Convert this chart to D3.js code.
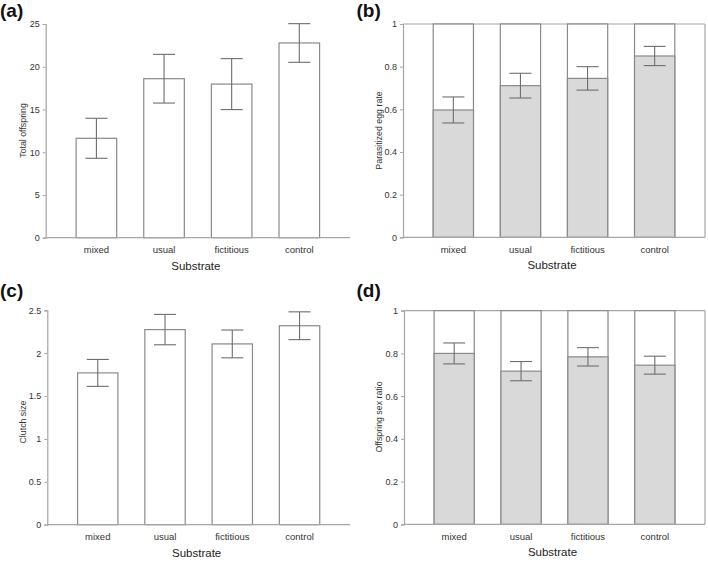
<!DOCTYPE html>
<html>
<head>
<meta charset="utf-8">
<script src="https://cdn.jsdelivr.net/npm/d3@7"></script>
<style>
  html, body { margin: 0; padding: 0; background: #fff; }
  svg { display: block; font-family: "Liberation Sans", Arial, sans-serif; }
</style>
</head>
<body>
<svg id="chart" width="708" height="565"></svg>
<script>
// ---- data ----
const categories = ["mixed", "usual", "fictitious", "control"];

const totalOffspring = [11.63, 18.6, 17.97, 22.78];
const totalOffspringSE = [2.34, 2.85, 2.98, 2.26];
const totalOffspringTicks = [0, 5, 10, 15, 20, 25];

const parasitizedRate = [0.597, 0.711, 0.745, 0.850];
const parasitizedRateSE = [0.061, 0.058, 0.055, 0.045];
const rateTicks = [0, 0.2, 0.4, 0.6, 0.8, 1];

const clutchSize = [1.77, 2.275, 2.108, 2.32];
const clutchSizeSE = [0.157, 0.177, 0.162, 0.162];
const clutchTicks = [0, 0.5, 1, 1.5, 2, 2.5];

const sexRatio = [0.800, 0.717, 0.784, 0.745];
const sexRatioSE = [0.049, 0.045, 0.043, 0.042];

const panelLabels = ["(a)", "(b)", "(c)", "(d)"];
const yTitles = ["Total offspring", "Parasitized egg rate", "Clutch size", "Offspring sex ratio"];
const xTitle = "Substrate";

// ---- layout ----
const panels = [
  { label: panelLabels[0], yTitle: yTitles[0], values: totalOffspring, se: totalOffspringSE, ticks: totalOffspringTicks, max: 25, stacked: false,
    x0: 45.7, x1: 350, yTop: 24, yBot: 237.7, lx: 0, ly: 16.5, ytx: 23.3, yty: 130.5 },
  { label: panelLabels[1], yTitle: yTitles[1], values: parasitizedRate, se: parasitizedRateSE, ticks: rateTicks, max: 1, stacked: true,
    x0: 403, x1: 705, yTop: 24, yBot: 237.3, lx: 356.5, ly: 16.5, ytx: 379, yty: 130.5 },
  { label: panelLabels[2], yTitle: yTitles[2], values: clutchSize, se: clutchSizeSE, ticks: clutchTicks, max: 2.5, stacked: false,
    x0: 47.3, x1: 350, yTop: 310.3, yBot: 524.7, lx: 0, ly: 296.5, ytx: 23.3, yty: 422 },
  { label: panelLabels[3], yTitle: yTitles[3], values: sexRatio, se: sexRatioSE, ticks: rateTicks, max: 1, stacked: true,
    x0: 404, x1: 705, yTop: 310.7, yBot: 524.3, lx: 356.5, ly: 296.5, ytx: 379, yty: 417 }
];

const svg = d3.select("#chart");
const axisColor = "#a6a6a6";
const barStroke = "#8a8a8a";
const errColor = "#6e6e6e";
const textColor = "#333";

panels.forEach(p => {
  const g = svg.append("g");
  const x = d3.scaleBand().domain(categories).range([p.x0, p.x1]).paddingInner(0.4).paddingOuter(0.45);
  const y = d3.scaleLinear().domain([0, p.max]).range([p.yBot, p.yTop]);

  // frame for stacked panels
  if (p.stacked) {
    g.append("line").attr("x1", p.x0).attr("x2", p.x1).attr("y1", y(p.max)).attr("y2", y(p.max))
      .attr("stroke", axisColor).attr("stroke-width", 1.2);
    g.append("line").attr("x1", p.x1).attr("x2", p.x1).attr("y1", y(p.max)).attr("y2", y(0))
      .attr("stroke", axisColor).attr("stroke-width", 1.2);
  }

  const data = categories.map((c, i) => ({ c, v: p.values[i], se: p.se[i] }));

  if (p.stacked) {
    g.selectAll(".bg").data(data).enter().append("rect")
      .attr("x", d => x(d.c)).attr("width", x.bandwidth())
      .attr("y", y(p.max)).attr("height", y(0) - y(p.max))
      .attr("fill", "#fff").attr("stroke", barStroke).attr("stroke-width", 1.2);
  }
  g.selectAll(".bar").data(data).enter().append("rect")
    .attr("x", d => x(d.c)).attr("width", x.bandwidth())
    .attr("y", d => y(d.v)).attr("height", d => y(0) - y(d.v))
    .attr("fill", p.stacked ? "#d9d9d9" : "#fff")
    .attr("stroke", barStroke).attr("stroke-width", 1.2);

  // error bars
  const cap = 11;
  const eb = g.selectAll(".err").data(data).enter().append("g").attr("stroke", errColor).attr("stroke-width", 1.1);
  eb.append("line")
    .attr("x1", d => x(d.c) + x.bandwidth() / 2).attr("x2", d => x(d.c) + x.bandwidth() / 2)
    .attr("y1", d => y(d.v + d.se)).attr("y2", d => y(d.v - d.se));
  eb.append("line")
    .attr("x1", d => x(d.c) + x.bandwidth() / 2 - cap).attr("x2", d => x(d.c) + x.bandwidth() / 2 + cap)
    .attr("y1", d => y(d.v + d.se)).attr("y2", d => y(d.v + d.se));
  eb.append("line")
    .attr("x1", d => x(d.c) + x.bandwidth() / 2 - cap).attr("x2", d => x(d.c) + x.bandwidth() / 2 + cap)
    .attr("y1", d => y(d.v - d.se)).attr("y2", d => y(d.v - d.se));

  // y axis
  const ya = g.append("g").attr("transform", `translate(${p.x0},0)`)
    .call(d3.axisLeft(y).tickValues(p.ticks).tickSize(3).tickPadding(3).tickFormat(d3.format("~g")));
  ya.select(".domain").attr("stroke", axisColor).attr("stroke-width", 1.2);
  ya.selectAll(".tick line").attr("stroke", axisColor);
  ya.selectAll(".tick text").attr("fill", textColor).style("font-size", "9px")
    .style("font-family", "'Liberation Sans', Arial, sans-serif");

  // x axis (line only, labels under bars)
  const xa = g.append("g").attr("transform", `translate(0,${p.yBot})`)
    .call(d3.axisBottom(x).tickSize(0).tickPadding(8.5));
  xa.select(".domain").attr("stroke", axisColor).attr("stroke-width", 1.2)
    .attr("d", `M${p.x0},0H${p.x1}`);
  xa.selectAll(".tick text").attr("fill", textColor).style("font-size", "9.5px")
    .style("font-family", "'Liberation Sans', Arial, sans-serif");

  // x title
  g.append("text").attr("x", (p.x0 + p.x1) / 2 - 2).attr("y", p.yBot + 32)
    .attr("text-anchor", "middle").attr("fill", "#222").style("font-size", "11.5px").text(xTitle);

  // y title
  g.append("text").attr("transform", `translate(${p.ytx + 3},${p.yty}) rotate(-90)`)
    .attr("text-anchor", "middle").attr("fill", textColor).style("font-size", "8.8px").text(p.yTitle);

  // panel label
  g.append("text").attr("x", p.lx).attr("y", p.ly)
    .attr("fill", "#111").style("font-size", "19px").style("font-weight", "bold").text(p.label);
});
</script>
</body>
</html>
